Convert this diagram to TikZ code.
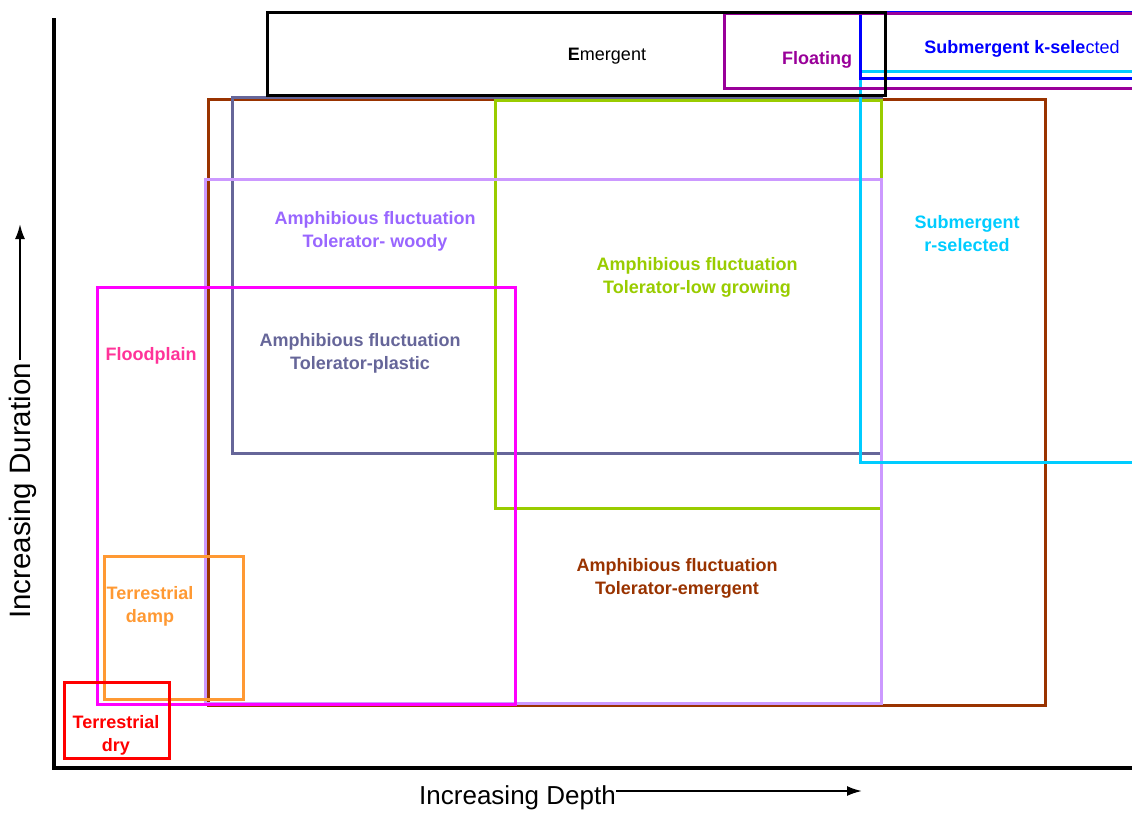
\documentclass[tikz,border=0pt]{standalone}
\usepackage{fontspec}
\setmainfont{Liberation Sans}
\usepackage{tikz}
\usetikzlibrary{arrows.meta}
\usepackage{xcolor}
\definecolor{rust}{HTML}{993300}
\definecolor{slate}{HTML}{666699}
\definecolor{lime}{HTML}{99CC00}
\definecolor{lilac}{HTML}{CC99FF}
\definecolor{violet}{HTML}{9966FF}
\definecolor{fuchsia}{HTML}{FF00FF}
\definecolor{rose}{HTML}{FF3399}
\definecolor{amber}{HTML}{FF9933}
\definecolor{sky}{HTML}{00CCFF}
\definecolor{plum}{HTML}{990099}
\begin{document}
\begin{tikzpicture}[x=1pt,y=-1pt,
  zone/.style={line width=3pt},
  lab/.style={align=center,inner sep=0pt,font=\fontsize{18}{23}\selectfont\bfseries},
  axarrow/.style={line width=2pt,-{Latex[length=15pt,width=10pt]}}]
\useasboundingbox (0,0) rectangle (1132,812);
\draw [zone,rust] (208,99) rectangle (1045,705);
\draw [zone,slate] (232,97) rectangle (881,453);
\draw [zone,lime] (495,100) rectangle (881,508);
\draw [zone,lilac] (205,179) rectangle (881,703);
\draw [zone,fuchsia] (97,287) rectangle (515,704);
\draw [zone,amber] (104,556) rectangle (243,699);
\draw [zone,red] (64,682) rectangle (169,758);
\draw [zone,sky] (860,71) rectangle (1140,462);
\draw [zone,blue] (860,12) rectangle (1140,78);
\draw [zone,plum] (724,13) rectangle (1140,88);
\draw [zone,black] (267,12) rectangle (885,95);
% axes
\draw [line width=4pt] (54,18) -- (54,768) -- (1134,768);
\node [lab,rust] (amem) at (677,578.5) {Amphibious fluctuation\\Tolerator-emergent};
\node [lab,slate] (ampl) at (360,353.5) {Amphibious fluctuation\\Tolerator-plastic};
\node [lab,lime] (amlo) at (697,277.5) {Amphibious fluctuation\\Tolerator-low growing};
\node [lab,violet] (amwo) at (375,231.5) {Amphibious fluctuation\\Tolerator- woody};
\node [lab,rose] (fp) at (151,356) {Floodplain};
\node [lab,amber] (tdamp) at (150,606) {Terrestrial\\damp};
\node [lab,red] (tdry) at (116,735.5) {Terrestrial\\dry};
\node [lab,sky] (subr) at (967,234) {Submergent\\r-selected};
\node [lab,blue] (subk) at (1022,49) {Submergent k-sele\mdseries cted};
\node [lab,plum] (flt) at (817,60) {Floating};
\node [lab,black,font=\fontsize{18}{23}\selectfont] (em) at (607,56) {\textbf{E}mergent};
\node [inner sep=0pt,font=\fontsize{26}{26}\selectfont,anchor=east] (xl) at (616,798) {Increasing Depth};
\coordinate (xe) at (862,791);
\draw [axarrow] (xl.east |- xe) -- (xe);
\node [inner sep=0pt,font=\fontsize{29.5}{29.5}\selectfont,rotate=90,anchor=west] (yl) at (23,619) {Increasing Duration};
\coordinate (ye) at (20,224);
\draw [axarrow] (yl.east -| ye) ++(0,-3) -- (ye);
\end{tikzpicture}
\end{document}
